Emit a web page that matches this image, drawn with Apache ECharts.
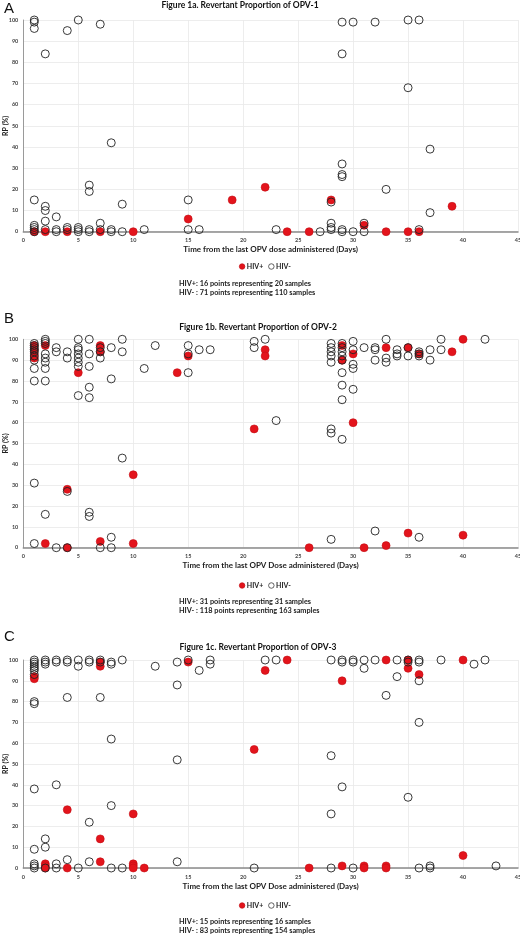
<!DOCTYPE html>
<html><head><meta charset="utf-8">
<script src="https://cdn.jsdelivr.net/npm/echarts@6/dist/echarts.min.js"></script>
<style>html,body{margin:0;padding:0;background:#fff}#c{width:520px;height:936px}</style>
</head><body><div id="c"></div>
<script>
// ---- data: [days, RP %] ----
const panelTitles = ['Figure 1a. Revertant Proportion of OPV-1','Figure 1b. Revertant Proportion of OPV-2','Figure 1c. Revertant Proportion of OPV-3'];
const panelLetters = ['A','B','C'];
const xNames = ['Time from the last OPV dose administered (Days)','Time from the last OPV Dose administered (Days)','Time from the last OPV Dose administered (Days)'];
const yName = 'RP (%)';
const notesPos = ['HIV+: 16 points representing 20 samples','HIV+: 31 points representing 31 samples','HIV+: 15 points representing 16 samples'];
const notesNeg = ['HIV- : 71 points representing 110 samples','HIV- : 118 points representing 163 samples','HIV- : 83 points representing 154 samples'];
const seriesNames = ['HIV+','HIV-'];

const aPos = [[1,0],[2,0],[4,0],[7,0],[10,0],[15,6],[19,15],[22,21],[24,0],[26,0],[28,15],[31,3],[33,0],[35,0],[36,0],[39,12]];
const aNeg = [[1,100],[1,99],[1,96],[1,15],[1,3],[1,2],[1,1],[1,0],[2,84],[2,12],[2,10],[2,5],[2,1],[3,7],[3,1],[3,0],
  [4,95],[4,2],[4,1],[5,100],[5,2],[5,1],[5,0],[6,22],[6,19],[6,1],[6,0],[7,98],[7,4],[7,1],[8,42],[8,1],[8,0],[9,13],[9,0],
  [11,1],[15,15],[15,1],[16,1],[23,1],[27,0],[28,14],[28,4],[28,2],[28,1],[29,99],[29,84],[29,32],[29,27],[29,26],[29,1],[29,0],
  [30,99],[30,0],[31,4],[31,0],[32,99],[33,20],[35,100],[35,68],[36,100],[36,1],[37,39],[37,9]];

const bPos = [[1,97],[1,95],[1,93],[1,91],[2,97],[2,2],[4,28],[4,0],[5,84],[7,97],[7,94],[7,3],[10,35],[10,2],[14,84],[15,92],
  [21,57],[22,95],[22,92],[26,0],[29,97],[29,90],[30,93],[30,60],[31,0],[33,96],[33,1],[35,96],[35,7],[36,93],[39,94],[40,100],[40,6]];
const bNeg = [[1,98],[1,97],[1,96],[1,95],[1,94],[1,92],[1,90],[1,86],[1,80],[1,31],[1,2],
  [2,100],[2,99],[2,98],[2,93],[2,91],[2,89],[2,86],[2,80],[2,16],[3,96],[3,94],[3,0],[4,94],[4,91],[4,27],[4,0],
  [5,100],[5,96],[5,95],[5,93],[5,91],[5,89],[5,87],[5,73],[6,100],[6,93],[6,87],[6,77],[6,72],[6,17],[6,15],
  [7,96],[7,94],[7,91],[7,0],[8,96],[8,81],[8,5],[8,0],[9,100],[9,94],[9,43],[11,86],[12,97],[15,97],[15,93],[15,84],
  [16,95],[17,95],[21,99],[21,96],[22,100],[23,61],[28,98],[28,96],[28,94],[28,92],[28,89],[28,57],[28,55],[28,4],
  [29,98],[29,96],[29,94],[29,92],[29,90],[29,84],[29,78],[29,71],[29,52],[30,99],[30,95],[30,88],[30,86],[30,76],
  [31,96],[32,96],[32,95],[32,90],[32,8],[33,100],[33,91],[33,89],[34,95],[34,93],[34,92],[35,96],[35,92],
  [36,94],[36,93],[36,92],[36,5],[37,95],[37,90],[38,100],[38,95],[42,100]];

const cPos = [[1,92],[1,91],[2,2],[2,1],[2,0],[4,28],[4,0],[7,99],[7,97],[7,14],[7,3],[10,26],[10,2],[10,1],[10,0],[11,0],
  [15,99],[21,57],[22,95],[24,100],[26,0],[29,90],[29,1],[31,1],[31,0],[33,100],[33,1],[33,0],[35,100],[35,96],[36,93],[40,100],[40,6]];
const cNeg = [[1,100],[1,99],[1,98],[1,97],[1,96],[1,95],[1,93],[1,80],[1,79],[1,38],[1,9],[1,2],[1,1],[1,0],
  [2,100],[2,99],[2,98],[2,14],[2,10],[2,0],[3,100],[3,99],[3,40],[3,2],[3,0],[4,100],[4,99],[4,82],[4,4],
  [5,100],[5,97],[5,0],[6,100],[6,99],[6,22],[6,3],[7,100],[7,99],[7,82],[8,99],[8,98],[8,62],[8,30],[8,0],[9,100],[9,0],
  [12,97],[14,99],[14,88],[14,52],[14,3],[15,100],[16,95],[17,100],[17,98],[21,0],[22,100],[23,100],
  [28,100],[28,54],[28,26],[28,0],[29,100],[29,99],[29,39],[30,100],[30,99],[30,0],[31,100],[31,96],[32,100],
  [33,83],[34,100],[34,92],[35,100],[35,99],[35,34],[36,100],[36,99],[36,90],[36,70],[36,0],
  [37,1],[37,0],[38,100],[41,98],[42,100],[43,1]];

const posData = [aPos, bPos, cPos];
const negData = [aNeg, bNeg, cNeg];

// ---- layout ----
const FONT = 'Lato';
const gridTops = [20, 339.3, 660];
const gridHeights = [211.7, 208.4, 208];
const titleY = [5, 327, 647];
const letterY = [9, 319, 637];
const legendTop = [263, 582, 902];
const noteY = [283.3, 601.7, 921.7];

const chart = echarts.init(document.getElementById('c'), null, {renderer:'canvas'});
const grids = [], xAxes = [], yAxes = [], series = [], legends = [], graphics = [];
for (let i = 0; i < 3; i++) {
  grids.push({left: 23.3, width: 494.7, top: gridTops[i], height: gridHeights[i], containLabel:false, outerBoundsMode:'none'});
  xAxes.push({
    type:'value', gridIndex:i, min:0, max:45, interval:5,
    name: xNames[i], nameLocation:'middle', nameGap:14,
    nameTextStyle:{fontFamily:FONT, fontWeight:'bold', fontSize:8, color:'#222'},
    axisLine:{show:true, onZero:false, lineStyle:{color:'#8a8a8a', width:1.5}},
    axisTick:{show:false},
    axisLabel:{fontFamily:FONT, fontWeight:'bold', fontSize:5.5, color:'#444', margin:6},
    splitLine:{show:true, lineStyle:{color:'#e8e8e8', width:0.8}}
  });
  yAxes.push({
    type:'value', gridIndex:i, min:0, max:100, interval:10,
    axisLine:{show:true, lineStyle:{color:'#9a9a9a', width:1}},
    axisTick:{show:false},
    axisLabel:{fontFamily:FONT, fontWeight:'bold', fontSize:5.5, color:'#444', margin:5},
    splitLine:{show:true, lineStyle:{color:'#e8e8e8', width:0.8}}
  });
  series.push({
    name: seriesNames[0], type:'scatter', xAxisIndex:i, yAxisIndex:i, data: posData[i],
    symbol:'circle', symbolSize:8,
    itemStyle:{color:'#e3141c', borderColor:'#c40d14', borderWidth:0.6, opacity:1}
  });
  series.push({
    name: seriesNames[1], type:'scatter', xAxisIndex:i, yAxisIndex:i, data: negData[i],
    symbol:'circle', symbolSize:8,
    itemStyle:{color:'rgba(255,255,255,0)', borderColor:'#222', borderWidth:0.9, opacity:1}
  });
  legends.push({
    data: seriesNames, left: 239, top: legendTop[i], orient:'horizontal', padding:0,
    itemWidth:5.5, itemHeight:5.5, itemGap:5, icon:'circle',
    itemStyle:{borderWidth:0.7},
    textStyle:{fontFamily:FONT, fontWeight:'bold', fontSize:7, color:'#222', padding:[0,0,0,-3]}
  });
  graphics.push({type:'text', x: 5.5, y: gridTops[i] + gridHeights[i] / 2, rotation: Math.PI / 2,
    style:{text: yName, fontFamily:FONT, fontWeight:'bold', fontSize:7, fill:'#222', textAlign:'center', textVerticalAlign:'middle'}});
  graphics.push({type:'text', x: (i===0?240:258), y: titleY[i], style:{text: panelTitles[i], fontFamily:FONT, fontWeight:'bold', fontSize:8.5, fill:'#111', textAlign:'center', textVerticalAlign:'middle'}});
  graphics.push({type:'text', x: 4, y: letterY[i], style:{text: panelLetters[i], fontFamily:'Liberation Sans', fontSize:15, fill:'#111', textAlign:'left', textVerticalAlign:'middle'}});
  graphics.push({type:'text', x: 179, y: noteY[i], style:{text: notesPos[i], fontFamily:FONT, fontWeight:'bold', fontSize:7.3, fill:'#222', textAlign:'left', textVerticalAlign:'middle'}});
  graphics.push({type:'text', x: 179, y: noteY[i] + 9.3, style:{text: notesNeg[i], fontFamily:FONT, fontWeight:'bold', fontSize:7.3, fill:'#222', textAlign:'left', textVerticalAlign:'middle'}});
}
chart.setOption({
  animation:false,
  backgroundColor:'#fff',
  grid: grids, xAxis: xAxes, yAxis: yAxes, series: series, legend: legends,
  graphic: graphics
});
</script></body></html>
